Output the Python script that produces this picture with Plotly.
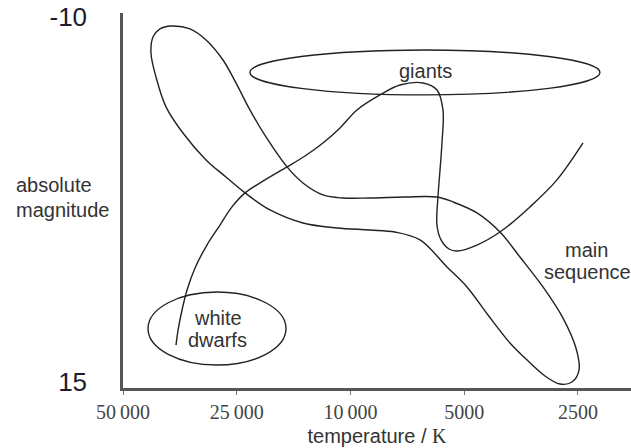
import plotly.graph_objects as go

# Temperature axis: evenly spaced category positions (hot on the left)
temp_positions = [0, 1, 2, 3, 4]
temp_labels = ["50\u2009000", "25\u2009000", "10\u2009000", "5000", "2500"]

# Absolute magnitude ticks
mag_ticks = [-10, 15]
mag_labels = ["-10", "15"]

# Main-sequence band outline (temperature position, absolute magnitude)
ms_temp = [0.993, 1.116, 1.257, 1.442, 1.582, 1.758, 1.934, 2.171, 2.479, 2.760,
           2.901, 3.112, 3.314, 3.490, 3.692, 3.868, 3.982, 4.009, 3.947, 3.842,
           3.710, 3.534, 3.402, 3.209, 3.024, 2.848, 2.611, 2.391, 2.171, 1.881,
           1.582, 1.292, 1.073, 0.905, 0.730, 0.527, 0.378, 0.290, 0.246, 0.264,
           0.325, 0.422, 0.589, 0.730, 0.879, 0.993]
ms_mag = [-5.48, -3.63, -1.78, 0.27, 1.37, 2.19, 2.40, 2.40, 2.33, 2.33,
          2.67, 3.42, 4.73, 6.44, 8.49, 10.62, 12.67, 14.18, 15.00, 15.14,
          14.59, 13.36, 12.33, 10.41, 8.49, 7.12, 5.27, 4.73, 4.59, 4.45,
          4.11, 3.22, 2.05, 0.96, -0.21, -2.05, -3.84, -5.89, -7.53, -8.63,
          -9.18, -9.38, -9.18, -8.42, -7.05, -5.48]

# Evolutionary track (white dwarf -> giant branch -> main sequence)
track_temp = [0.466, 0.484, 0.519, 0.563, 0.633, 0.738, 0.853, 0.958, 1.073, 1.248,
              1.442, 1.600, 1.758, 1.908, 2.057, 2.259, 2.435, 2.637, 2.760, 2.813,
              2.804, 2.787, 2.769, 2.760, 2.796, 2.866, 2.936, 3.112, 3.314, 3.578,
              3.815, 4.044]
track_mag = [12.47, 11.44, 10.07, 8.70, 7.19, 5.62, 4.25, 3.01, 2.05, 1.16,
             0.27, -0.48, -1.37, -2.40, -3.63, -4.66, -5.34, -5.48, -5.00, -3.63,
             -1.37, 0.48, 2.33, 4.25, 5.27, 5.89, 6.03, 5.62, 4.73, 3.01,
             1.16, -1.37]

# Elliptical regions: name, temperature bounds, magnitude bounds
region_names = ["giants", "white dwarfs"]
region_temp_lo = [1.116, 0.220]
region_temp_hi = [4.193, 1.433]
region_mag_lo = [-7.74, 8.84]
region_mag_hi = [-4.66, 13.84]

INK = "#222222"
TXT = "#333333"

fig = go.Figure()
fig.add_trace(go.Scatter(x=ms_temp, y=ms_mag, mode="lines",
                         line=dict(color=INK, width=1.4, shape="spline", smoothing=1),
                         hoverinfo="skip", showlegend=False))
fig.add_trace(go.Scatter(x=track_temp, y=track_mag, mode="lines",
                         line=dict(color=INK, width=1.4, shape="spline", smoothing=1),
                         hoverinfo="skip", showlegend=False))

for i in range(len(region_names)):
    fig.add_shape(type="circle", xref="x", yref="y",
                  x0=region_temp_lo[i], x1=region_temp_hi[i],
                  y0=region_mag_lo[i], y1=region_mag_hi[i],
                  line=dict(color=INK, width=1.4))

lab_font = dict(family="Liberation Sans, Arial, sans-serif", size=20, color=TXT)
annots = [
    dict(text="giants", x=2.655, y=-6.30, xanchor="center"),
    dict(text="white", x=0.835, y=10.62, xanchor="center"),
    dict(text="dwarfs", x=0.835, y=12.12, xanchor="center"),
    dict(text="main", x=4.079, y=5.96, xanchor="center"),
    dict(text="sequence", x=3.684, y=7.47, xanchor="left"),
]
for a in annots:
    fig.add_annotation(text=a["text"], x=a["x"], y=a["y"], xref="x", yref="y",
                       xanchor=a["xanchor"], yanchor="middle", showarrow=False,
                       font=lab_font)
for txt, yv in [("absolute", 1.50), ("magnitude", 3.22)]:
    fig.add_annotation(text=txt, x=-0.2146, y=yv, xref="paper", yref="y",
                       xanchor="left", yanchor="middle", showarrow=False,
                       font=lab_font)

fig.update_layout(
    width=631, height=448,
    margin=dict(l=123, r=0, t=13, b=60),
    paper_bgcolor="white", plot_bgcolor="white",
    xaxis=dict(range=[0, 4.466], tickmode="array", tickvals=temp_positions,
               ticktext=temp_labels, showgrid=False, zeroline=False,
               showline=True, linecolor="#555555", linewidth=2.5,
               ticks="outside", ticklen=4, tickcolor="#777777", tickwidth=1,
               automargin=False,
               tickfont=dict(family="Liberation Serif, Times New Roman, serif",
                             size=20, color="#444444"),
               title=dict(text="temperature / <span style='font-family:Liberation Serif'>K</span>",
                          font=dict(family="Liberation Sans, Arial, sans-serif",
                                    size=20, color=TXT),
                          standoff=8)),
    yaxis=dict(range=[15.41, -10.27], tickmode="array", tickvals=mag_ticks,
               ticktext=mag_labels, showgrid=False, zeroline=False,
               showline=True, linecolor="#555555", linewidth=2.5,
               ticks="", ticklabelstandoff=28, ticklabeloverflow="allow",
               automargin=False,
               tickfont=dict(family="Liberation Sans, Arial, sans-serif",
                             size=26, color="#1c1c2c")),
)

# Remove the browser's default 8 px body margin so the figure fills the window
fig.write_html("out.html",
               config={"displayModeBar": False},
               post_script="document.body.style.margin='0';")
